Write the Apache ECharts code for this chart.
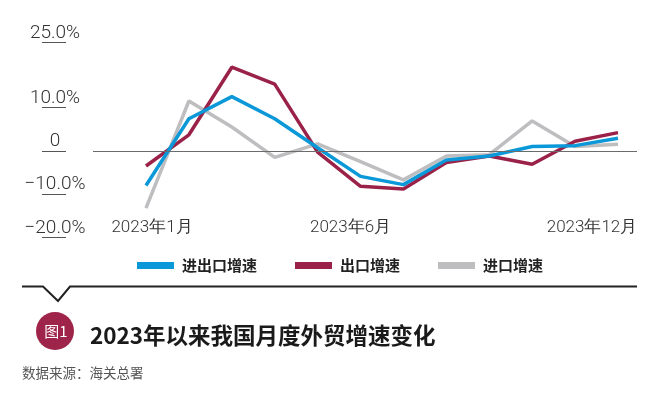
<!DOCTYPE html>
<html>
<head>
<meta charset="utf-8">
<script src="https://cdn.jsdelivr.net/npm/echarts@6/dist/echarts.min.js"></script>
<style>
html,body{margin:0;padding:0;background:#fff;}
#chart{width:655px;height:394px;}
</style>
</head>
<body>
<div id="chart"></div>
<script>
// ---- data ----
var months = [1, 2, 3, 4, 5, 6, 7, 8, 9, 10, 11, 12];
var seriesNames = ['进出口增速', '出口增速', '进口增速'];
var totalGrowth  = [-8.0, 7.4, 12.5, 7.4, 0.7, -5.9, -7.8, -2.1, -1.2, 1.0, 1.2, 2.9];
var exportGrowth = [-3.5, 3.7, 19.3, 15.4, -0.3, -8.2, -8.8, -2.7, -1.2, -3.1, 2.2, 4.2];
var importGrowth = [-13.2, 11.5, 5.5, -1.5, 1.6, -2.5, -6.7, -1.2, -0.9, 6.9, 1.0, 1.5];
var xTickValues = [1, 6, 12];
var xTickLabels = ['2023年1月', '2023年6月', '2023年12月'];
var yTickValues = [25, 10, 0, -10, -20];
var yTickLabels = ['25.0%', '10.0%', '0', '−10.0%', '−20.0%'];
var titleText = '2023年以来我国月度外贸增速变化';
var badgeText = '图1';
var sourceText = '数据来源：海关总署';

var colors = ['#0a98d8', '#9a2249', '#bebec1'];

function pairs(vals) {
  return months.map(function (m, i) { return [m, vals[i]]; });
}

var chart = echarts.init(document.getElementById('chart'));
var numFont = 'Roboto, "Liberation Sans", sans-serif';
var cjk = '"Noto Sans CJK SC", sans-serif';

var option = {
  animation: false,
  backgroundColor: '#fff',
  color: colors,
  grid: [
    { left: 93, right: 18, top: 42.5, bottom: 156.5, containLabel: false, outerBoundsMode: 'none' },
    { left: 42, width: 24, top: 42.5, bottom: 156.5, containLabel: false, outerBoundsMode: 'none' }
  ],
  legend: {
    left: 137, top: 258, padding: 0,
    icon: 'rect', itemWidth: 37, itemHeight: 7, itemGap: 38,
    textStyle: { fontFamily: cjk, fontWeight: 'bold', fontSize: 15, color: '#222', padding: [0, 0, 0, 3] },
    data: seriesNames
  },
  xAxis: [{
    type: 'value', min: -0.235, max: 12.443, gridIndex: 0,
    position: 'bottom', offset: -18,
    axisLine: { show: false }, axisTick: { show: false }, splitLine: { show: false },
    axisLabel: {
      customValues: xTickValues,
      margin: 0, verticalAlign: 'top',
      formatter: function (v) {
        var i = xTickValues.indexOf(v);
        var key = ['a', 'b', 'c'][i];
        return '{' + key + '|' + xTickLabels[i] + '}';
      },
      rich: {
        a: { fontFamily: numFont, fontWeight: 300, fontSize: 17, color: '#333', padding: [0, 0, 0, 12] },
        b: { fontFamily: numFont, fontWeight: 300, fontSize: 17, color: '#333', padding: [0, 20, 0, 0] },
        c: { fontFamily: numFont, fontWeight: 300, fontSize: 17, color: '#333', padding: [0, 52, 0, 0] }
      }
    }
  }, {
    type: 'value', min: 0, max: 1, gridIndex: 1, show: false
  }],
  yAxis: [{
    type: 'value', min: -20, max: 25, gridIndex: 0,
    position: 'left', offset: 27,
    axisLine: { show: false },
    splitLine: { show: false },
    axisTick: { show: false },
    axisLabel: {
      customValues: yTickValues,
      margin: 11, align: 'center', verticalAlign: 'bottom',
      fontFamily: numFont, fontWeight: 300, fontSize: 19, color: '#333',
      formatter: function (v) { return yTickLabels[yTickValues.indexOf(v)]; }
    }
  }, {
    type: 'value', min: -20, max: 25, gridIndex: 1, show: false
  }],
  series: [
    { name: seriesNames[0], type: 'line', data: pairs(totalGrowth), showSymbol: false, lineStyle: { width: 3.5 }, z: 3,
      markLine: { silent: true, symbol: 'none', label: { show: false },
        lineStyle: { color: '#6b6b6b', width: 1, type: 'solid' }, data: [{ yAxis: 0 }] } },
    { name: seriesNames[1], type: 'line', data: pairs(exportGrowth), showSymbol: false, lineStyle: { width: 3.5 }, z: 2 },
    { name: seriesNames[2], type: 'line', data: pairs(importGrowth), showSymbol: false, lineStyle: { width: 3.5 }, z: 1 },
    { name: 'ticks', type: 'line', xAxisIndex: 1, yAxisIndex: 1, data: [], silent: true,
      markLine: { silent: true, symbol: 'none', label: { show: false },
        lineStyle: { color: '#555', width: 1, type: 'solid' },
        data: yTickValues.map(function (v) { return { yAxis: v }; }) } }
  ],
  graphic: [
    { type: 'polyline', shape: { points: [[22, 286.5], [43, 286.5], [58, 301], [70, 286.5], [637, 286.5]] },
      style: { stroke: '#222', lineWidth: 2, fill: null } },
    { type: 'circle', shape: { cx: 55, cy: 331, r: 19 }, style: { fill: '#9e2449' } },
    { type: 'text', x: 56, y: 331, style: { text: badgeText, fill: '#fff', font: '15px ' + cjk, align: 'center', verticalAlign: 'middle' } },
    { type: 'text', x: 90, y: 335, style: { text: titleText, fill: '#1a1a1a', font: 'bold 22.5px ' + cjk, verticalAlign: 'middle' } },
    { type: 'text', x: 22, y: 373, style: { text: sourceText, fill: '#555', font: '13.5px ' + cjk, verticalAlign: 'middle' } }
  ]
};
chart.setOption(option);
</script>
</body>
</html>
